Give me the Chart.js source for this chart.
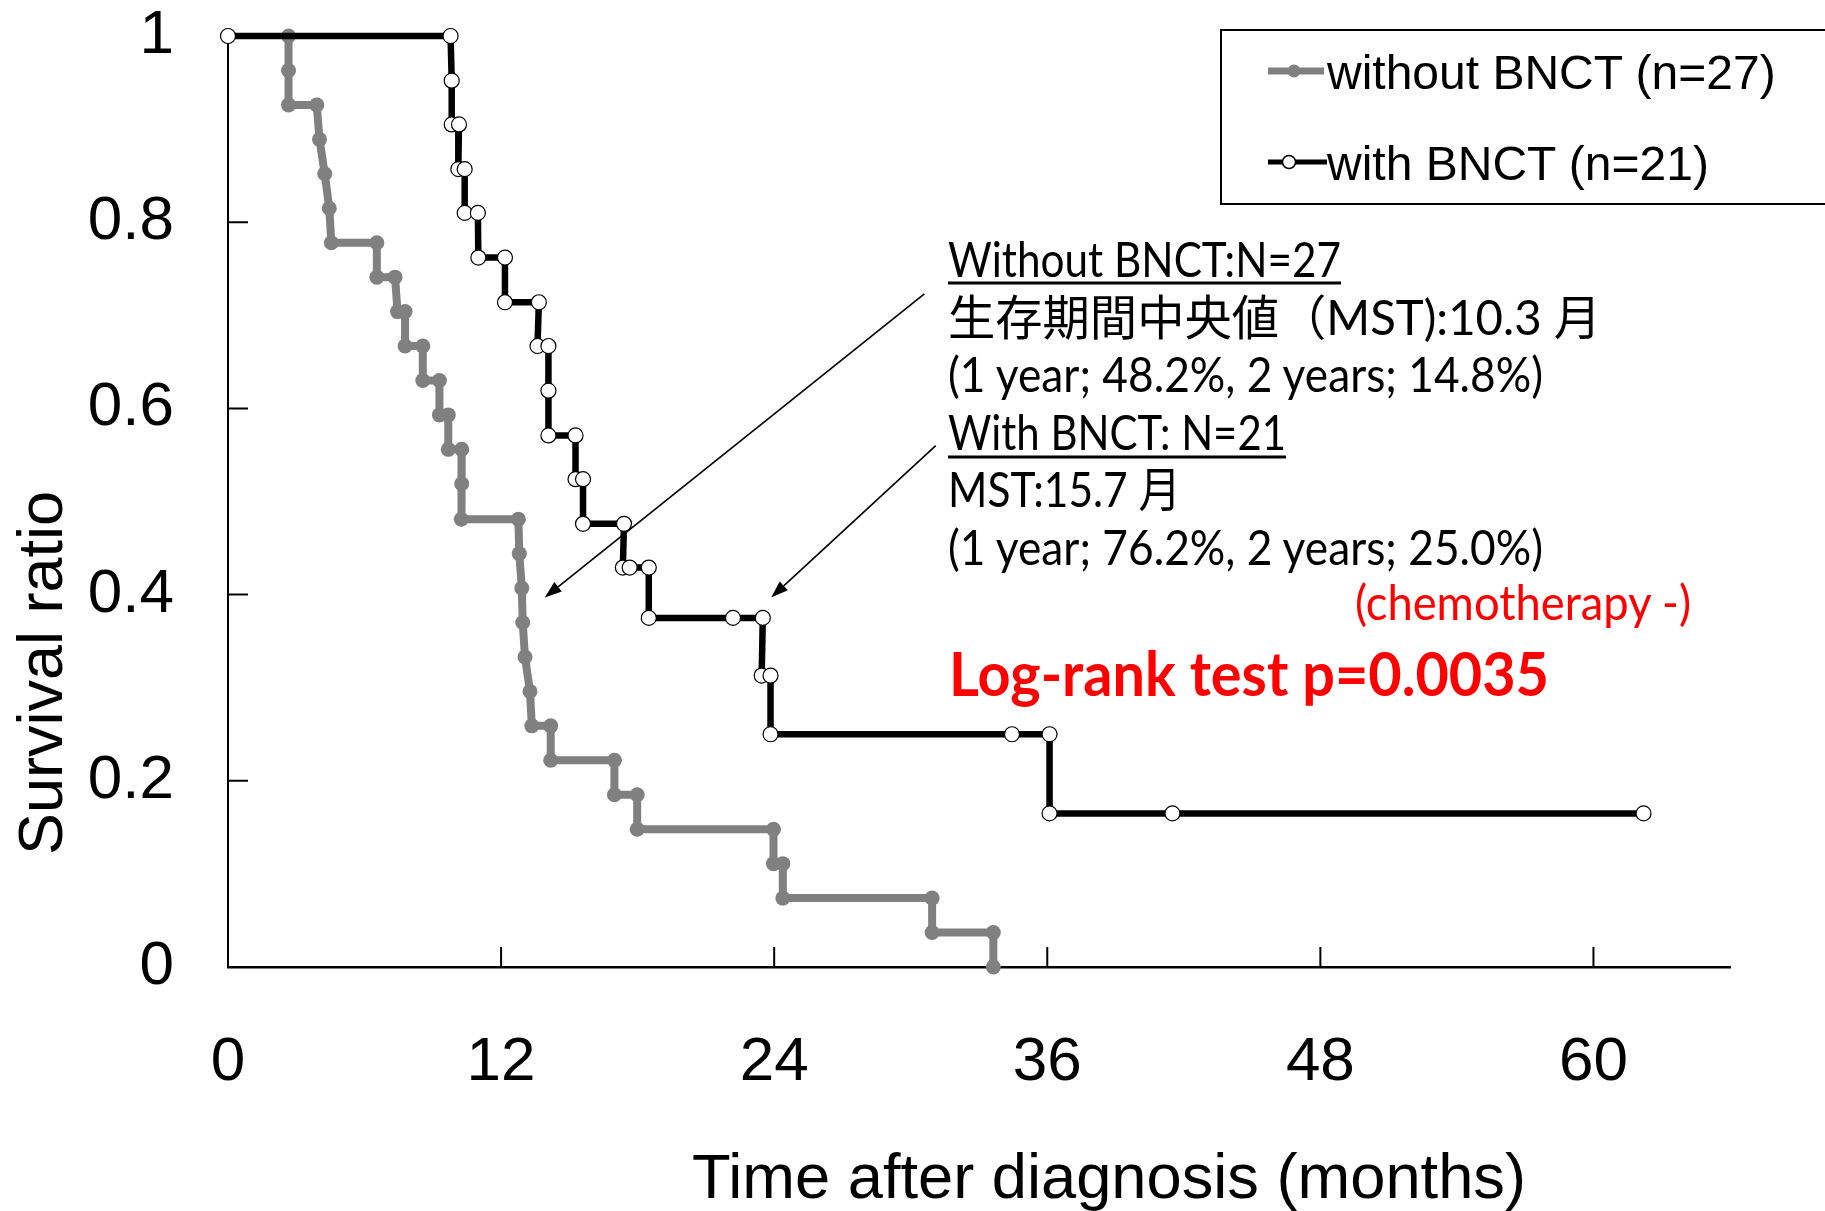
<!DOCTYPE html>
<html>
<head>
<meta charset="utf-8">
<title>Survival after diagnosis</title>
<script src="https://cdn.jsdelivr.net/npm/chart.js@4.4.0/dist/chart.umd.min.js"></script>
<style>
    html, body { margin: 0; padding: 0; background: #fff; overflow: hidden; }
    #wrap { position: relative; width: 1825px; height: 1211px; }
    #wrap canvas, #wrap svg { position: absolute; left: 0; top: 0; }
    .note { font-family: Lato, "Noto Sans CJK JP", sans-serif; font-size: 48px; fill: #000; }
    .big { font-size: 62px; font-weight: bold; }
    .red { fill: #ff0000; }
    .arial { font-family: "Liberation Sans", Arial, sans-serif; fill: #000; }
</style>
</head>
<body>
<div id="wrap">
    <canvas id="kmChart" width="1825" height="1211"></canvas>
    <svg width="1825" height="1211" xmlns="http://www.w3.org/2000/svg">
        <!-- axis titles -->
        <text class="arial" x="692" y="1198" font-size="63" textLength="834" lengthAdjust="spacingAndGlyphs">Time after diagnosis (months)</text>
        <text class="arial" transform="translate(62,855) rotate(-90)" font-size="63" textLength="364" lengthAdjust="spacingAndGlyphs">Survival ratio</text>

        <!-- legend -->
        <rect x="1221" y="30" width="640" height="174" fill="none" stroke="#000" stroke-width="2"/>
        <line x1="1268" y1="71" x2="1324" y2="71" stroke="#808080" stroke-width="7"/>
        <circle cx="1294" cy="71" r="6.5" fill="#808080"/>
        <text class="arial" x="1327" y="89" font-size="48">without BNCT (n=27)</text>
        <line x1="1268" y1="162" x2="1327" y2="162" stroke="#000" stroke-width="5"/>
        <circle cx="1289" cy="162" r="6.5" fill="#fff" stroke="#000" stroke-width="1.5"/>
        <text class="arial" x="1327" y="180" font-size="48">with BNCT (n=21)</text>

        <!-- notes -->
        <text class="note" x="948" y="277" textLength="393" lengthAdjust="spacingAndGlyphs">Without BNCT:N=27</text>
        <line x1="948" y1="283" x2="1341" y2="283" stroke="#000" stroke-width="3"/>
        <text class="note" x="948" y="335" textLength="653" lengthAdjust="spacingAndGlyphs">生存期間中央値（MST):10.3 月</text>
        <text class="note" x="948" y="392" textLength="595" lengthAdjust="spacingAndGlyphs">(1 year; 48.2%, 2 years; 14.8%)</text>
        <text class="note" x="948" y="450" textLength="338" lengthAdjust="spacingAndGlyphs">With BNCT: N=21</text>
        <line x1="948" y1="457" x2="1286" y2="457" stroke="#000" stroke-width="3"/>
        <text class="note" x="948" y="507" textLength="233" lengthAdjust="spacingAndGlyphs">MST:15.7 月</text>
        <text class="note" x="948" y="565" textLength="595" lengthAdjust="spacingAndGlyphs">(1 year; 76.2%, 2 years; 25.0%)</text>
        <text class="note red" x="1355" y="620" textLength="336" lengthAdjust="spacingAndGlyphs">(chemotherapy -)</text>
        <text class="note big red" x="949" y="696" textLength="600" lengthAdjust="spacingAndGlyphs">Log-rank test p=0.0035</text>
    </svg>
</div>
<script>
    // without BNCT (n=27): corners of the Kaplan-Meier steps
    var withoutTimes = [2.66, 2.66, 2.66, 3.9, 4.02, 4.25, 4.45, 4.54, 6.54, 6.54, 7.34, 7.45, 7.78, 7.78,
        8.56, 8.56, 9.29, 9.29, 9.68, 9.68, 10.27, 10.27, 10.25, 12.76, 12.8, 12.91, 12.95, 13.05, 13.27,
        13.35, 14.18, 14.18, 16.98, 16.98, 17.98, 17.98, 23.97, 23.97, 24.38, 24.38, 30.94, 30.94, 33.63, 33.63];
    var withoutSurvival = [1, 0.963, 0.926, 0.926, 0.889, 0.852, 0.815, 0.778, 0.778, 0.741, 0.741, 0.704, 0.704, 0.667,
        0.667, 0.63, 0.63, 0.593, 0.593, 0.556, 0.556, 0.519, 0.481, 0.481, 0.444, 0.407, 0.37, 0.333, 0.296,
        0.259, 0.259, 0.222, 0.222, 0.185, 0.185, 0.148, 0.148, 0.111, 0.111, 0.074, 0.074, 0.037, 0.037, 0];

    // with BNCT (n=21)
    var withTimes = [0, 9.78, 9.83, 9.83, 10.15, 10.12, 10.4, 10.4, 10.98, 11.0, 12.17, 12.17, 13.66, 13.6, 14.08,
        14.08, 14.08, 15.27, 15.27, 15.6, 15.6, 17.4, 17.35, 17.65, 18.49, 18.49, 22.19, 23.5, 23.45, 23.84,
        23.84, 34.45, 36.1, 36.1, 41.5, 62.2];
    var withSurvival = [1, 1, 0.952, 0.905, 0.905, 0.857, 0.857, 0.81, 0.81, 0.762, 0.762, 0.714, 0.714, 0.667, 0.667,
        0.619, 0.571, 0.571, 0.524, 0.524, 0.476, 0.476, 0.429, 0.429, 0.429, 0.375, 0.375, 0.375, 0.313, 0.313,
        0.25, 0.25, 0.25, 0.165, 0.165, 0.165];

    var xTicks = [0, 12, 24, 36, 48, 60];
    var yTicks = [0, 0.2, 0.4, 0.6, 0.8, 1];

    // arrows from the notes to the curves, in data units
    var arrowNotes = [
        { from: [30.6, 0.723], to: [13.92, 0.397] },
        { from: [31.1, 0.56], to: [23.87, 0.397] }
    ];

    function toPoints(xs, ys) {
        return xs.map(function (x, i) {
            return { x: x, y: ys[i] };
        });
    }

    var innerTicks = {
        id: 'innerTicks',
        beforeDatasetsDraw: function (chart) {
            var ctx = chart.ctx;
            var xs = chart.scales.x;
            var ys = chart.scales.y;
            ctx.save();
            ctx.strokeStyle = '#000';
            ctx.lineWidth = 2;
            ctx.beginPath();
            xTicks.forEach(function (v) {
                if (v === 0) return;
                var px = xs.getPixelForValue(v);
                ctx.moveTo(px, ys.bottom);
                ctx.lineTo(px, ys.bottom - 20);
            });
            yTicks.forEach(function (v) {
                if (v === 0 || v === 1) return;
                var py = ys.getPixelForValue(v);
                ctx.moveTo(xs.left, py);
                ctx.lineTo(xs.left + 20, py);
            });
            ctx.stroke();
            ctx.restore();
        }
    };

    var arrows = {
        id: 'arrows',
        afterDatasetsDraw: function (chart) {
            var ctx = chart.ctx;
            var xs = chart.scales.x;
            var ys = chart.scales.y;
            ctx.save();
            ctx.strokeStyle = '#000';
            ctx.fillStyle = '#000';
            ctx.lineWidth = 1.6;
            arrowNotes.forEach(function (a) {
                var x1 = xs.getPixelForValue(a.from[0]);
                var y1 = ys.getPixelForValue(a.from[1]);
                var x2 = xs.getPixelForValue(a.to[0]);
                var y2 = ys.getPixelForValue(a.to[1]);
                var ang = Math.atan2(y2 - y1, x2 - x1);
                var len = 17;
                var half = 6;
                var bx = x2 - len * Math.cos(ang);
                var by = y2 - len * Math.sin(ang);
                ctx.beginPath();
                ctx.moveTo(x1, y1);
                ctx.lineTo(bx, by);
                ctx.stroke();
                ctx.beginPath();
                ctx.moveTo(x2, y2);
                ctx.lineTo(bx + half * Math.sin(ang), by - half * Math.cos(ang));
                ctx.lineTo(bx - half * Math.sin(ang), by + half * Math.cos(ang));
                ctx.closePath();
                ctx.fill();
            });
            ctx.restore();
        }
    };

    new Chart(document.getElementById('kmChart'), {
        type: 'line',
        data: {
            datasets: [
                {
                    label: 'with BNCT (n=21)',
                    data: toPoints(withTimes, withSurvival),
                    borderColor: '#000',
                    borderWidth: 6.5,
                    pointRadius: 7.5,
                    pointBackgroundColor: '#fff',
                    pointBorderColor: '#000',
                    pointBorderWidth: 1.2,
                    tension: 0,
                    clip: false
                },
                {
                    label: 'without BNCT (n=27)',
                    data: toPoints(withoutTimes, withoutSurvival),
                    borderColor: '#808080',
                    borderWidth: 8,
                    pointRadius: 7.5,
                    pointBackgroundColor: '#808080',
                    pointBorderColor: '#808080',
                    pointBorderWidth: 0,
                    tension: 0,
                    clip: false
                }
            ]
        },
        options: {
            responsive: false,
            animation: false,
            events: [],
            devicePixelRatio: 1,
            layout: {
                padding: { top: 36, right: 95, left: 0, bottom: 0 }
            },
            plugins: {
                legend: { display: false },
                tooltip: { enabled: false }
            },
            scales: {
                x: {
                    type: 'linear',
                    min: 0,
                    max: 66,
                    afterBuildTicks: function (scale) {
                        scale.ticks = xTicks.map(function (v) { return { value: v }; });
                    },
                    afterFit: function (scale) {
                        scale.height = 244;
                        scale.paddingLeft = 0;
                        scale.paddingRight = 0;
                    },
                    grid: { display: false, drawTicks: false },
                    border: { display: true, color: '#000', width: 2.5 },
                    ticks: {
                        autoSkip: false,
                        maxRotation: 0,
                        padding: 59,
                        color: '#000',
                        font: { family: 'Liberation Sans', size: 62 }
                    }
                },
                y: {
                    type: 'linear',
                    min: 0,
                    max: 1,
                    afterBuildTicks: function (scale) {
                        scale.ticks = yTicks.map(function (v) { return { value: v }; });
                    },
                    afterFit: function (scale) {
                        scale.width = 228;
                        scale.paddingTop = 0;
                        scale.paddingBottom = 0;
                    },
                    grid: { display: false, drawTicks: false },
                    border: { display: true, color: '#000', width: 2 },
                    ticks: {
                        autoSkip: false,
                        padding: 54,
                        color: '#000',
                        font: { family: 'Liberation Sans', size: 62, lineHeight: 1 },
                        callback: function (value) {
                            return String(value);
                        }
                    }
                }
            }
        },
        plugins: [innerTicks, arrows]
    });
</script>
</body>
</html>
